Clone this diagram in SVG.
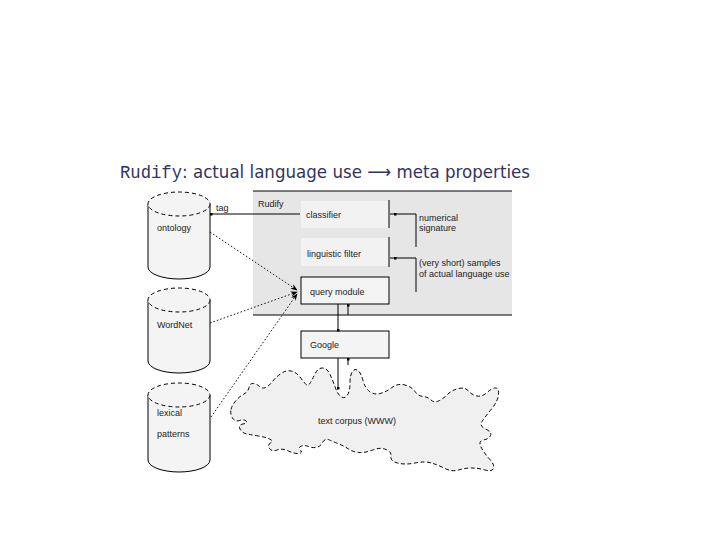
<svg xmlns="http://www.w3.org/2000/svg" width="720" height="540" viewBox="0 0 720 540">
<style>
.t{font-family:"Liberation Sans","DejaVu Sans",sans-serif;font-size:9px;fill:#222}
.cylb{fill:#f4f4f4;stroke:#000;stroke-width:1}
.cylt{fill:#f4f4f4;stroke:#000;stroke-width:1;stroke-dasharray:4 3}
.box{fill:#f4f4f4;stroke:#000;stroke-width:1}
.pl{fill:#f2f2f2;stroke:none}
.ln{fill:none;stroke:#000;stroke-width:1}
.dot{fill:none;stroke:#000;stroke-width:0.9;stroke-dasharray:1.6 2}
</style>
<defs>
<marker id="ah" viewBox="0 0 10 10" refX="9" refY="5" markerWidth="7" markerHeight="7" orient="auto-start-reverse" markerUnits="userSpaceOnUse">
<path d="M0,1 L10,5 L0,9 L3,5 Z" fill="#000"/>
</marker>
<marker id="sq" viewBox="0 0 4 4" refX="2" refY="2" markerWidth="3" markerHeight="3" markerUnits="userSpaceOnUse">
<rect x="0" y="0" width="4" height="4" fill="#000"/>
</marker>
</defs>
<rect width="720" height="540" fill="#fff"/>
<text x="120" y="178" font-size="18" fill="#33335f"><tspan font-family="'Liberation Mono','DejaVu Sans Mono',monospace" textLength="62" lengthAdjust="spacingAndGlyphs">Rudify</tspan><tspan font-family="'DejaVu Sans','Liberation Sans',sans-serif" textLength="348" lengthAdjust="spacingAndGlyphs">: actual language use ⟶ meta properties</tspan></text>
<g id="rudify">
<rect x="253" y="191" width="259" height="124" fill="#e6e6e6"/>
<line class="ln" x1="253" y1="191" x2="512" y2="191"/>
<line class="ln" x1="253" y1="315" x2="512" y2="315"/>
<text class="t" x="258" y="207">Rudify</text>
</g>
<g id="ontology">
<path class="cylb" d="M148,204 L148,267 A31,12 0 0 0 210,267 L210,204"/>
<ellipse class="cylt" cx="179" cy="204" rx="31" ry="12"/>
<text class="t" x="157" y="231">ontology</text>
</g>
<g id="wordnet">
<path class="cylb" d="M148,300 L148,361 A31,12 0 0 0 210,361 L210,300"/>
<ellipse class="cylt" cx="179" cy="300" rx="31" ry="12"/>
<text class="t" x="157" y="328">WordNet</text>
</g>
<g id="lexical">
<path class="cylb" d="M148,395 L148,460 A31,12 0 0 0 210,460 L210,395"/>
<ellipse class="cylt" cx="179" cy="395" rx="31" ry="12"/>
<text class="t" x="157" y="416">lexical</text>
<text class="t" x="157" y="437">patterns</text>
</g>
<g id="classifier">
<rect class="pl" x="301" y="201" width="88" height="27"/>
<text class="t" x="306" y="218">classifier</text>
</g>
<g id="filter">
<rect class="pl" x="301" y="238" width="88" height="28"/>
<text class="t" x="307" y="257">linguistic filter</text>
</g>
<g id="query">
<rect class="box" x="301" y="277" width="88" height="27"/>
<text class="t" x="310" y="295">query module</text>
</g>
<g id="google">
<rect class="box" x="301" y="331" width="88" height="27"/>
<text class="t" x="310" y="348">Google</text>
</g>
<g id="corpus">
<path d="M231,409.5 Q232,405 236,400.5 Q240,396 244,394 Q248,392 249,387.5 Q250,383 253.5,383.5 Q257,384 259.5,386.5 Q262,389 265.5,387.5 Q269,386 272.5,381.5 Q276,377 281,373.5 Q286,370 291,371 Q296,372 299.5,376.5 Q303,381 305.5,384 Q308,387 310.5,382.5 Q313,378 315.5,373 Q318,368 322.5,368 Q327,368 330,374.5 Q333,381 335.5,388 Q338,395 341.5,397 Q345,399 347.5,395 Q350,391 350,383 Q350,375 352.5,371.5 Q355,368 358,370.5 Q361,373 363,380.5 Q365,388 369.5,391.5 Q374,395 380,393.5 Q386,392 392,387.5 Q398,383 405,385 Q412,387 415,391.5 Q418,396 423,396.5 Q428,397 431,400 Q434,403 438.5,401 Q443,399 447.5,394.5 Q452,390 458.5,388.5 Q465,387 468.5,391 Q472,395 477,396 Q482,397 487,392.5 Q492,388 495.5,388 Q499,388 498.5,394.5 Q498,401 491.5,409 Q485,417 482,421.5 Q479,426 485.5,429 Q492,432 490.5,435.5 Q489,439 483.5,440 Q478,441 481,447 Q484,453 489.5,459 Q495,465 493.5,468.5 Q492,472 485,470 Q478,468 471.5,468 Q465,468 458.5,470 Q452,472 445,468.5 Q438,465 431.5,463 Q425,461 415,463 Q405,465 397.5,463 Q390,461 391,456.5 Q392,452 386,449.5 Q380,447 372.5,450 Q365,453 359,452.5 Q353,452 348.5,449 Q344,446 339,444 Q334,442 329.5,440 Q325,438 322.5,442.5 Q320,447 316,447.5 Q312,448 308.5,446.5 Q305,445 301.5,446 Q298,447 300.5,450 Q303,453 299,453.5 Q295,454 288.5,451 Q282,448 277,450 Q272,452 269.5,448.5 Q267,445 270.5,443 Q274,441 269.5,439 Q265,437 258.5,436 Q252,435 247,434 Q242,433 240,429 Q238,425 243,424 Q248,423 246,421 Q244,419 239.5,420.5 Q235,422 232.5,418 Q230,414 231,409.5 Z" fill="#f0f0f0" stroke="#000" stroke-width="1" stroke-dasharray="4 2.5"/>
<text class="t" x="318" y="424">text corpus (WWW)</text>
</g>
<g id="connectors">
<line class="ln" x1="300" y1="214" x2="211" y2="214" marker-end="url(#sq)"/>
<line class="ln" x1="389" y1="200" x2="389" y2="228"/>
<line class="ln" x1="389" y1="237" x2="389" y2="267"/>
<polyline class="ln" points="395,214 416,214 416,247" marker-start="url(#sq)"/>
<line class="ln" x1="390" y1="214" x2="395" y2="214"/>
<polyline class="ln" points="395,258 416,258 416,292" marker-start="url(#sq)"/>
<line class="ln" x1="390" y1="258" x2="395" y2="258"/>
<text class="t" x="419" y="221">numerical</text>
<text class="t" x="419" y="231">signature</text>
<text class="t" x="419" y="266">(very short) samples</text>
<text class="t" x="419" y="277">of actual language use</text>
<text class="t" x="216" y="211" font-size="8">tag</text>
<line class="ln" x1="338" y1="304" x2="338" y2="330" marker-end="url(#sq)"/>
<line class="ln" x1="348" y1="315" x2="348" y2="305" marker-end="url(#sq)"/>
<line class="ln" x1="338" y1="358" x2="338" y2="388" marker-end="url(#sq)"/>
<line class="ln" x1="348" y1="365" x2="348" y2="359" marker-end="url(#sq)"/>
<line class="dot" x1="210" y1="232" x2="297" y2="290" marker-end="url(#ah)"/>
<line class="dot" x1="210" y1="323" x2="297" y2="292" marker-end="url(#ah)"/>
<line class="dot" x1="211" y1="417" x2="297" y2="294" marker-end="url(#ah)"/>
</g>
</svg>
